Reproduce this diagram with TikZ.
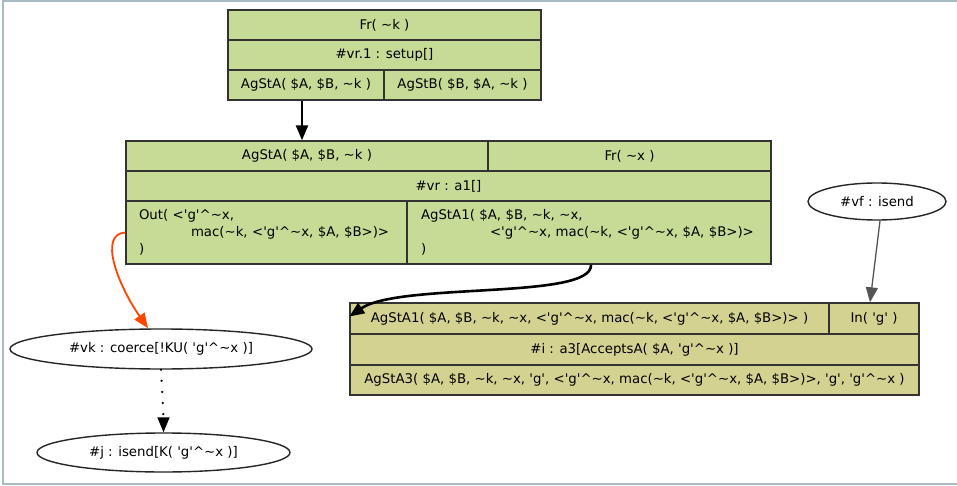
\documentclass[tikz,border=0pt]{standalone}
\usepackage{fontspec}
\newfontfamily\gv{DejaVu Sans}
\usetikzlibrary{arrows.meta,shapes.geometric}
\newcommand\tld{\textasciitilde}
\newcommand\crt{\textasciicircum}
\newcommand\gq{\textquotesingle}
\definecolor{rgreen}{HTML}{C5DB96}
\definecolor{rolive}{HTML}{D4D290}
\definecolor{frame}{HTML}{A8BCC4}
\definecolor{edgeorange}{HTML}{FF4500}
\definecolor{edgegrey}{HTML}{555555}
\begin{document}
\begin{tikzpicture}[x=1pt,y=-1pt,
  every node/.style={font=\gv\fontsize{13.3}{17}\selectfont},
  cellg/.style={draw=black!80,line width=1.4pt,fill=rgreen,rectangle,inner sep=0pt,minimum height=#1},
  cellg/.default=30pt,
  cello/.style={draw=black!80,line width=1.4pt,fill=rolive,rectangle,inner sep=0pt,minimum height=#1},
  cello/.default=31pt,
  oval/.style={draw=black!85,line width=1.4pt,ellipse,inner sep=0pt},
  tip/.style={-{Triangle[length=15pt,width=12pt]}},
]
\useasboundingbox (0,0) rectangle (957,486);
\fill[white] (0,0) rectangle (957,486);
\draw[frame,line width=2pt] (960,1.5) -- (3,1.5) -- (3,483.5) -- (960,483.5);

% box 1
\node[cellg,minimum width=313pt] (f1) at (384.5,25) {Fr( \tld k )};
\node[cellg,minimum width=313pt] (s1) at (384.5,55) {\#vr.1 : setup[]};
\node[cellg,minimum width=156pt] (a1) at (306,85) {AgStA( \$A, \$B, \tld k )};
\node[cellg,minimum width=157pt] (b1) at (462.5,85) {AgStB( \$B, \$A, \tld k )};

% box 2
\node[cellg,minimum width=362pt] (a2) at (307,156) {AgStA( \$A, \$B, \tld k )};
\node[cellg,minimum width=283pt] (fx) at (629.5,156) {Fr( \tld x )};
\node[cellg,minimum width=645pt] (r2) at (448.5,186) {\#vr : a1[]};
\node[cellg=63pt,minimum width=281pt,align=left,text width=255pt] (out) at (266.5,232.5)
  {Out( <\gq g\gq\crt\tld x,\\\hspace*{52pt}mac(\tld k, <\gq g\gq\crt\tld x, \$A, \$B>)>\\)};
\node[cellg=63pt,minimum width=364pt,align=left,text width=336pt] (st1) at (589,232.5)
  {AgStA1( \$A, \$B, \tld k, \tld x,\\\hspace*{69pt}<\gq g\gq\crt\tld x, mac(\tld k, <\gq g\gq\crt\tld x, \$A, \$B>)>\\)};

% box 3
\node[cello,minimum width=479pt] (a3) at (589.5,318.5) {AgStA1( \$A, \$B, \tld k, \tld x, <\gq g\gq\crt\tld x, mac(\tld k, <\gq g\gq\crt\tld x, \$A, \$B>)> )};
\node[cello,minimum width=90pt] (ing) at (874,318.5) {In( \gq g\gq\ )};
\node[cello,minimum width=569pt] (r3) at (634.5,349.5) {\#i : a3[AcceptsA( \$A, \gq g\gq\crt\tld x )]};
\node[cello=30pt,minimum width=569pt] (st3) at (634.5,380) {AgStA3( \$A, \$B, \tld k, \tld x, \gq g\gq, <\gq g\gq\crt\tld x, mac(\tld k, <\gq g\gq\crt\tld x, \$A, \$B>)>, \gq g\gq, \gq g\gq\crt\tld x )};

% ovals
\node[oval,minimum width=138pt,minimum height=37pt] (vf) at (877,201.5) {\#vf : isend};
\node[oval,minimum width=302pt,minimum height=40pt] (vk) at (161,349) {\#vk : coerce[!KU( \gq g\gq\crt\tld x )]};
\node[oval,minimum width=253pt,minimum height=39pt] (vj) at (163.5,452.5) {\#j : isend[K( \gq g\gq\crt\tld x )]};

% edges
\draw[tip,line width=2.4pt] ([xshift=-4pt]a1.south) -- ([xshift=-4pt]a1.south |- a2.north);
\draw[tip,line width=2.6pt] ([xshift=2pt]st1.south) .. controls (593,300) and (400,282) .. ([yshift=2pt]a3.west);
\draw[tip,edgegrey,line width=1.3pt] ([xshift=3pt]vf.south) -- ([xshift=-4pt]ing.north);
\draw[tip,edgeorange,line width=1.8pt] (out.west) .. controls (98,234) and (118,285) .. ([xshift=-13pt]vk.north);
\draw[line width=2.4pt,dash pattern=on 0.1pt off 11pt,line cap=round] (vk.south) -- ([yshift=15pt]vj.north);
\draw[tip,line width=1.5pt] ([yshift=14pt]vj.north) -- (vj.north);
\end{tikzpicture}
\end{document}
